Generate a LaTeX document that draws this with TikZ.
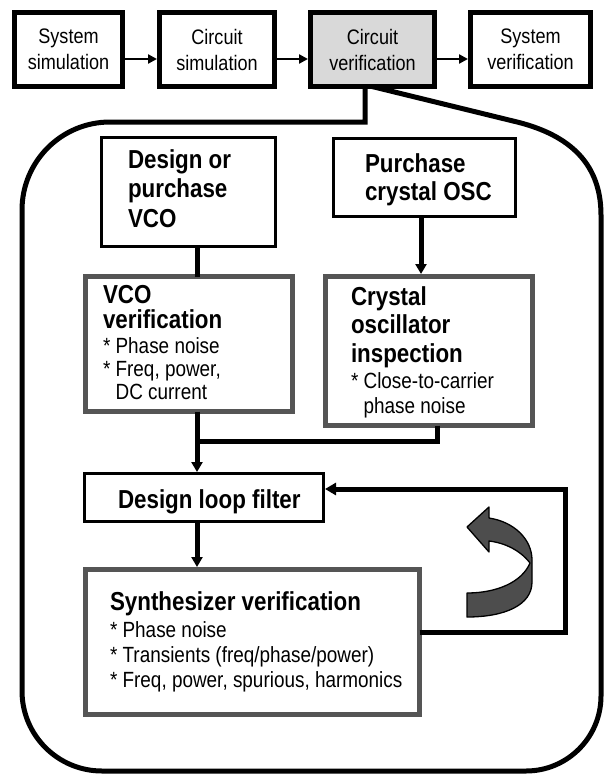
\documentclass[tikz,border=0pt]{standalone}
\usepackage{fontspec}
\setmainfont{Liberation Sans}[FakeStretch=0.86]
\usetikzlibrary{arrows.meta}
\definecolor{boxgray}{HTML}{555555}
\definecolor{fillgray}{HTML}{D9D9D9}
\definecolor{arrgray}{HTML}{4D4D4D}
\begin{document}
\begin{tikzpicture}[x=1pt,y=-1pt,
  topbox/.style={draw, line width=5pt, minimum width=#1, minimum height=74pt, inner sep=0pt, outer sep=0pt, align=center, font=\fontsize{21}{26}\selectfont},
  thinbox/.style={draw, line width=2.8pt, inner sep=0pt, outer sep=0pt},
  graybox/.style={draw=boxgray, line width=5pt, inner sep=0pt, outer sep=0pt},
  bt/.style={inner sep=0pt, outer sep=0pt, align=left, font=\bfseries\fontsize{26}{#1}\selectfont},
  bt/.default=29.5,
  rt/.style={inner sep=0pt, outer sep=0pt, align=left, font=\fontsize{22}{#1}\selectfont},
  rt/.default=25,
  toparrow/.style={line width=2.5pt, -{Triangle[length=9pt,width=9pt]}, shorten >=2.5pt},
  conn/.style={line width=5pt},
  tip/.style={-{Triangle[length=10pt,width=11pt]}},
  callout/.style={line width=5pt, line join=miter}
]
\path[fill=white, use as bounding box] (0,0) rectangle (605,776);

% top row
\node[topbox=108pt] (ss) at (68.5,49.5) {System\\simulation};
\node[topbox=115pt] (cs) at (217,49.5) {Circuit\\simulation};
\node[topbox=124pt, fill=fillgray] (cv) at (372.5,49.5) {Circuit\\verification};
\node[topbox=120pt] (sv) at (530.5,49.5) {System\\verification};
\coordinate (ya) at (0,59);
\draw[toparrow] (ss.east |- ya) -- (cs.west |- ya);
\draw[toparrow] (cs.east |- ya) -- (cv.west |- ya);
\draw[toparrow] (cv.east |- ya) -- (sv.west |- ya);

% callout outline
\coordinate (tabr) at (372,0);
\coordinate (tabl) at (365,0);
\draw[callout] (cv.south -| tabr) -- (513,121)
  .. controls (565,133) and (601,160) .. (601,215)
  -- (601,696) .. controls (601,737.4) and (567.4,771) .. (526,771)
  -- (102,771) .. controls (57.8,771) and (22,735.2) .. (22,691)
  -- (22,210) .. controls (22,161.4) and (61.4,122) .. (110,122)
  -- (365,122) -- (cv.south -| tabl);

% inner boxes
\node[thinbox, minimum width=174.2pt, minimum height=109.2pt] (dvco) at (188.5,192) {};
\node[thinbox, minimum width=182.2pt, minimum height=78.2pt] (pcos) at (424.5,177.5) {};
\node[graybox, minimum width=207pt, minimum height=135pt] (vcov) at (189,344) {};
\node[graybox, minimum width=207pt, minimum height=149pt] (crys) at (429,351) {};
\node[thinbox, minimum width=239.2pt, minimum height=48.2pt] (lf) at (204,497.5) {};
\node[graybox, minimum width=334pt, minimum height=145pt] (synth) at (252.5,642) {};

% texts
\node[bt, anchor=north west] (dvcot) at (128,149.4) {Design or\\purchase\\VCO};
\node[bt=28, anchor=north west] (pcost) at (365,153.4) {Purchase\\crystal OSC};
\node[bt=25, anchor=north west] (vcovt) at (103,285.4) {VCO\\verification};
\node[rt=23, anchor=north west] (vcovl) at (103,337.3) {* Phase noise\\* Freq, power,\\\hphantom{*\ }DC current};
\node[bt=28.5, anchor=north west] (cryst) at (351,286.4) {Crystal\\oscillator\\inspection};
\node[rt=25, anchor=north west] (crysl) at (351,372.3) {* Close-to-carrier\\\hphantom{*\ }phase noise};
\node[bt, anchor=base west] (lft) at (118,508) {Design loop filter};
\node[bt, anchor=base west] (synt) at (110,610) {Synthesizer verification};
\node[rt=25, anchor=north west] (synl) at (110,621.3) {* Phase noise\\* Transients (freq/phase/power)\\* Freq, power, spurious, harmonics};

% connectors
\coordinate (xa) at (197,0);
\coordinate (xb) at (421,0);
\coordinate (xc) at (437,0);
\coordinate (jn) at (197,441);
\draw[conn] (dvco.south -| xa) -- (vcov.north -| xa);
\draw[conn, tip, shorten >=2.5pt] (pcos.south -| xb) -- (crys.north -| xb);
\draw[conn, tip, shorten >=1.4pt] (vcov.south -| xa) -- (lf.north -| xa);
\draw[conn] (crys.south -| xc) |- (jn);
\draw[conn, tip, shorten >=2.5pt] (lf.south -| xa) -- (synth.north -| xa);
\coordinate (fb1) at (565,632);
\coordinate (fb2) at (565,489);
\draw[conn, -{Triangle[length=11pt,width=12pt]}, shorten >=1.4pt] (synth.east |- fb1) -- (fb1) -- (fb2) -- (lf.east |- fb2);

% curved ribbon arrow
\draw[fill=arrgray, line width=1.3pt, line join=round] (467,527) -- (489,507) -- (489,518)
  .. controls (515,522) and (532,540) .. (532,560)
  -- (532,582) .. controls (532,605) and (505,617) .. (467,617)
  -- (467,593) .. controls (497,593) and (522,582) .. (530,563)
  .. controls (520,550) and (505,543) .. (489,541)
  -- (489,552) -- cycle;
\end{tikzpicture}
\end{document}
